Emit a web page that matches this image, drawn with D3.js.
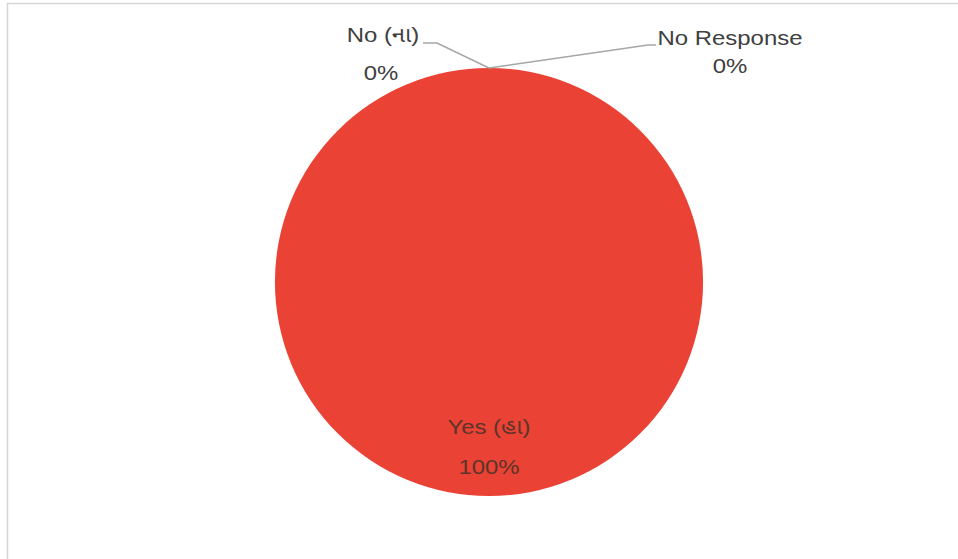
<!DOCTYPE html>
<html><head><meta charset="utf-8">
<script src="https://cdn.jsdelivr.net/npm/d3@7"></script>
<style>html,body{margin:0;padding:0;background:#fff;overflow:hidden}</style>
</head><body>
<svg id="c" width="958" height="559"></svg>
<script>
const categories = ["Yes (હા)", "No (ના)", "No Response"];
const values = [100, 0, 0];
const percentLabels = ["100%", "0%", "0%"];
const colors = ["#EA4335", "#4285F4", "#FBBC04"];

const svg = d3.select("#c");
const W = 958, H = 559;
svg.append("rect").attr("x", 7.5).attr("y", 3.5).attr("width", 1000).attr("height", 600)
  .attr("fill", "#fff").attr("stroke", "#d6d6d6").attr("stroke-width", 1.5);

const cx = 489, cy = 282, r = 214;
const g = svg.append("g").attr("transform", `translate(${cx},${cy})`);
const pie = d3.pie().sort(null).value(d => d)(values);
const arc = d3.arc().innerRadius(0).outerRadius(r);
g.selectAll("path").data(pie).join("path")
  .attr("d", arc).attr("fill", (d, i) => colors[i]);

const font = "'Liberation Sans', Arial, 'Noto Sans Gujarati', 'Noto Sans', sans-serif";
function label(x, y, txt, fill, anchor) {
  svg.append("text").attr("transform", `translate(${x},${y}) scale(1.14,1)`)
    .attr("text-anchor", anchor || "middle").attr("dominant-baseline", "central")
    .attr("font-family", font).attr("font-size", 21).attr("fill", fill).text(txt);
}

// inside label for Yes
const labelArc = d3.arc().innerRadius(r * 0.77).outerRadius(r * 0.77);
const yes = pie[0];
const [lx, ly] = labelArc.centroid(yes);
label(cx + lx, cy + ly - 20, categories[0], "#5e3329");
label(cx + lx, cy + ly + 20, percentLabels[0], "#5e3329");

// outside labels for zero slices
const anchorPt = d => {
  const a = d.startAngle;
  return [cx + r * Math.sin(a), cy - r * Math.cos(a)];
};
const lineColor = "#a6a6a6";
// No
{
  const [ax, ay] = anchorPt(pie[1]);
  svg.append("polyline").attr("points", `${ax},${ay} 437,43 423,43`)
    .attr("fill", "none").attr("stroke", lineColor).attr("stroke-width", 1.5);
  label(383, 35, categories[1], "#404040");
  label(381, 73, percentLabels[1], "#404040");
}
// No Response
{
  const [ax, ay] = anchorPt(pie[2]);
  svg.append("polyline").attr("points", `${ax},${ay} 648,45 656,45`)
    .attr("fill", "none").attr("stroke", lineColor).attr("stroke-width", 1.5);
  label(730, 38, categories[2], "#404040");
  label(730, 66, percentLabels[2], "#404040");
}
</script>
</body></html>
